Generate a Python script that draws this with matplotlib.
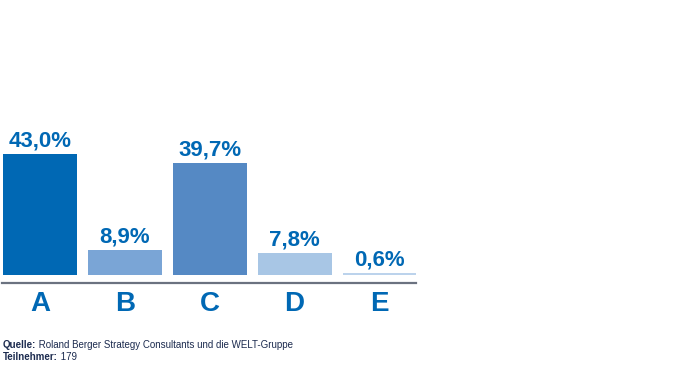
import matplotlib.pyplot as plt
from matplotlib import font_manager

cats = ["A", "B", "C", "D", "E"]
values = [43.0, 8.9, 39.7, 7.8, 0.6]
labels = ["43,0%", "8,9%", "39,7%", "7,8%", "0,6%"]
colors = ["#0068b4", "#7aa5d6", "#5589c4", "#a8c6e5", "#bcd3ec"]

names = {f.name for f in font_manager.fontManager.ttflist}
fam = ["Liberation Sans Narrow", "DejaVu Sans"] if "Liberation Sans Narrow" in names else ["Liberation Sans", "DejaVu Sans"]
plt.rcParams["font.family"] = fam

blue = "#0068b4"
fig = plt.figure(figsize=(7, 3.7), dpi=100)
ax = fig.add_axes([2 / 700, 87 / 370, 414 / 700, 183 / 370])
x = range(len(cats))
ax.bar(x, values, width=0.87, color=colors)
for i, v in enumerate(values):
    ax.text(i, v + 1.0, labels[i], ha="center", va="bottom", fontsize=16,
            fontweight="bold", color=blue)
ax.set_xlim(-0.447, 4.43)
ax.set_ylim(-2.85, 62.3)
for s in ["top", "right", "left"]:
    ax.spines[s].set_visible(False)
ax.spines["bottom"].set_color("#6b7280")
ax.spines["bottom"].set_linewidth(1.6)
ax.set_yticks([])
ax.set_xticks(list(x))
ax.set_xticklabels(cats, fontsize=20, fontweight="bold", color=blue)
ax.tick_params(axis="x", length=0, pad=6)

# footer: bold key + regular value
navy = "#1c2b4f"
r = fig.canvas.get_renderer()
for key, val, ypx in [("Quelle:", " Roland Berger Strategy Consultants und die WELT-Gruppe", 345),
                      ("Teilnehmer:", " 179", 357)]:
    t = fig.text(3 / 700, 1 - ypx / 370, key, fontsize=7, fontweight="bold", color=navy, va="center")
    w = t.get_window_extent(r).width
    fig.text((3 + w) / 700, 1 - ypx / 370, val, fontsize=7, color=navy, va="center")

fig.savefig("out.png", dpi=100)
